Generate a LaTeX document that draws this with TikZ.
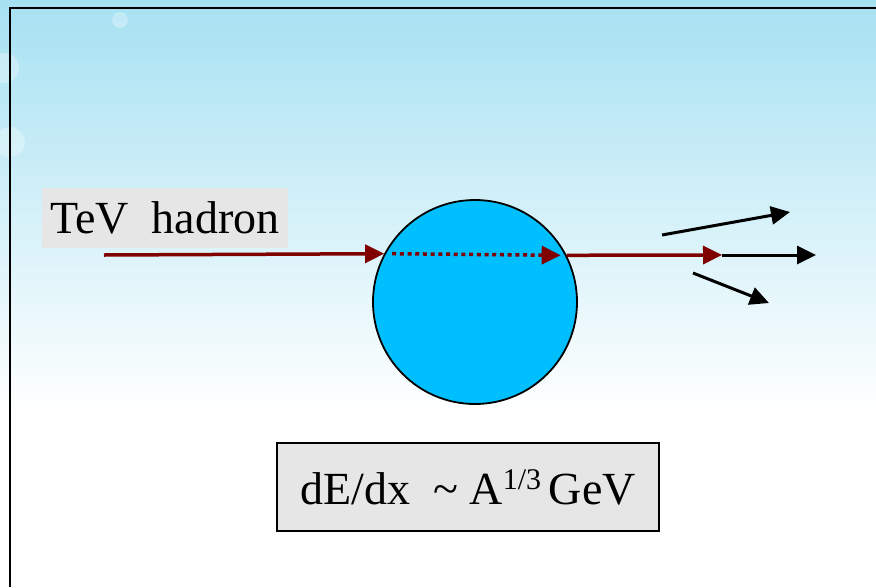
\documentclass[tikz,border=0pt]{standalone}
\usepackage{fontspec}
\setmainfont{Liberation Serif}
\usetikzlibrary{arrows.meta, positioning, calc}
\definecolor{skyTop}{HTML}{A6E1F2}
\definecolor{nucleusBlue}{HTML}{00BFFF}
\definecolor{hadronRed}{HTML}{800000}
\definecolor{labelGray}{HTML}{E6E6E6}

\begin{document}
\begin{tikzpicture}[
  x=1pt, y=-1pt,
  lbl/.style={fill=labelGray, inner sep=0pt, align=center,
              font=\fontsize{46}{50}\selectfont},
  formulabox/.style={lbl, draw, line width=1.8pt},
  nucleus/.style={circle, draw, line width=1.8pt, fill=nucleusBlue,
                  minimum size=204pt, inner sep=0pt},
  beam/.style={hadronRed, line width=3.5pt, -{Triangle[length=19pt, width=18pt]}},
  beamdots/.style={beam, dash pattern=on 4pt off 3.7pt},
  jet/.style={black, line width=3pt, -{Triangle[length=19pt, width=18pt]}},
  bubble/.style={fill=white, opacity=0.3},
]
\useasboundingbox (0,0) rectangle (876,587);
\shade[top color=skyTop, bottom color=white] (0,0) rectangle (876,410);
\fill[white] (0,410) rectangle (876,587);
\fill[bubble] (120,20) circle (8);
\fill[bubble] (4,68) circle (15);
\fill[bubble] (10,142) circle (15);
\draw[line width=2.5pt] (876,8) -| (10,587);

\node[lbl, minimum width=246pt, minimum height=60pt] (hadron) at (165,218) {TeV\ \ hadron};
\node[nucleus] (nuc) at (475,302) {};
\node[formulabox, minimum width=382pt, minimum height=88pt] (dedx) at (468,487)
  {dE/dx\ \ \textasciitilde\ A\raisebox{15pt}{\fontsize{30}{30}\selectfont 1/3}\,GeV};

\coordinate (src) at (104,255);
\coordinate (split) at (722,255);
\coordinate (fwd) at (816,255);
\coordinate (upA) at (662,235);
\coordinate (upB) at (790,212);
\coordinate (lowA) at (693,273);
\coordinate (lowB) at (769,303);

\draw[beam] (src) -- (nuc.152.6);
\draw[beamdots] ($(nuc.152.6)+(8,0)$) -- ($(nuc.27.4)+(-6,0)$);
\draw[jet] (split) -- (fwd);
\draw[beam] (nuc.27.4) -- (split);
\draw[jet] (upA) -- (upB);
\draw[jet] (lowA) -- (lowB);
\end{tikzpicture}
\end{document}
